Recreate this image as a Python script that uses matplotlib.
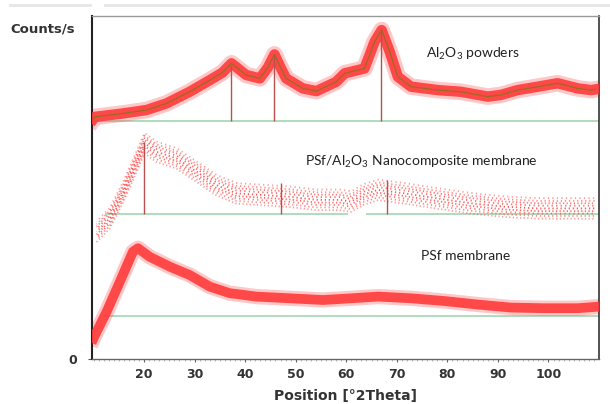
import matplotlib
matplotlib.use("Agg")
import matplotlib.pyplot as plt
from matplotlib.lines import Line2D
import numpy as np

plt.rcParams['mathtext.fontset'] = 'custom'
plt.rcParams['mathtext.rm'] = 'Lato'
plt.rcParams['mathtext.it'] = 'Lato:italic'

# ---------------- data ----------------
# Al2O3 powders (top trace)
al_x = [10.0, 10.3, 15.9, 20.5, 24.4, 29.0, 33.0, 35.5, 37.3, 40.2, 42.9, 44.5, 45.8, 47.0,
        48.1, 51.4, 54.1, 58.0, 59.7, 63.6, 65.6, 67.0, 68.6, 70.2, 72.8, 78.1, 82.7,
        88.0, 90.6, 93.9, 97.9, 101.8, 105.8, 108.4, 109.3]
al_y = [70.0, 70.6, 71.6, 72.6, 74.5, 77.9, 81.3, 83.5, 86.2, 82.8, 81.8, 85.0, 88.8, 85.0,
        81.8, 78.9, 78.1, 80.8, 83.3, 84.7, 92.5, 95.9, 89.6, 82.3, 79.4, 78.4, 77.9,
        76.5, 77.0, 78.4, 79.4, 80.4, 78.9, 78.4, 78.6]
al_base = 69.4
al_peaks = [37.1, 45.7, 66.8]
al_peak_tops = [85.7, 88.6, 96.5]

# PSf/Al2O3 nanocomposite membrane (middle trace)
nc_x = [10.6, 13.2, 15.9, 18.5, 20.1, 22.5, 26.4, 30.4, 34.3, 38.3, 43.5, 48.8, 54.1,
        58.7, 61.0, 63.5, 66.3, 71.5, 78.1, 84.7, 91.3, 97.9, 104.5, 109.3]
nc_y = [37.1, 41.0, 48.8, 57.5, 62.9, 60.4, 58.5, 54.6, 50.7, 48.3, 47.8, 47.3, 46.4,
        46.4, 45.9, 48.0, 49.3, 48.3, 46.8, 45.4, 44.4, 43.9, 43.9, 43.9]
nc_base = 42.2
nc_base_segments = [(12.2, 60.3), (63.9, 110.0)]
nc_peaks = [20.0, 47.0, 68.0]
nc_peak_tops = [63.4, 51.2, 52.2]

# PSf membrane (bottom trace)
ps_x = [10.0, 10.3, 12.6, 15.2, 17.8, 18.8, 21.1, 25.1, 29.0, 33.0, 36.9, 42.2, 48.8,
        55.4, 61.0, 66.3, 72.8, 79.4, 85.9, 92.5, 99.2, 105.8, 109.3]
ps_y = [6.0, 7.0, 13.8, 22.5, 31.3, 32.3, 29.8, 26.9, 24.5, 21.1, 19.2, 18.2, 17.7,
        17.2, 17.7, 18.2, 17.7, 16.9, 15.9, 15.0, 14.8, 14.8, 15.2]
ps_base = 12.5
ps_base_range = (12.0, 110.0)

x_ticks = [20, 30, 40, 50, 60, 70, 80, 90, 100]
labels = [r'Al$_2$O$_3$ powders', r'PSf/Al$_2$O$_3$ Nanocomposite membrane', 'PSf membrane']
label_pos = [(75.8, 88.8), (51.8, 57.5), (74.8, 30.1)]

# ---------------- figure ----------------
fig = plt.figure(figsize=(6.10, 4.04), dpi=100)
ax = fig.add_axes([92/610, 1-359/404, (599-92)/610, (359-16)/404])
ax.set_xlim(9.7, 110.0)
ax.set_ylim(0, 100)

red = '#ff3a3a'
green = '#a9d9b6'
stick = '#b85050'

# baselines
ax.hlines(al_base, 9.7, 110.0, color=green, lw=1.3, zorder=1)
for a, b in nc_base_segments:
    ax.hlines(nc_base, a, b, color=green, lw=1.3, zorder=1)
ax.hlines(ps_base, *ps_base_range, color=green, lw=1.3, zorder=1)

# top trace: noisy band
ax.plot(al_x, al_y, color=red, lw=12, alpha=0.28, solid_joinstyle='round', zorder=2)
ax.plot(al_x, al_y, color=red, lw=7.5, alpha=0.9, solid_joinstyle='round', zorder=3)
ax.plot(al_x, al_y, color='#9a6a22', lw=0.9, zorder=4)

# middle trace: dotted scatter band
offsets = [-3.0, -2.2, -1.5, -0.8, 0.0, 0.8, 1.5, 2.2, 3.0]
for i, off in enumerate(offsets):
    a = 0.85 - 0.12 * abs(off)
    ax.plot(nc_x, np.asarray(nc_y) + off, color=red, lw=1.3, alpha=a,
            linestyle=(i * 0.7, (0.7, 1.3 + 0.25 * (i % 3))), zorder=3)

# bottom trace: noisy band
ax.plot(ps_x, ps_y, color=red, lw=11, alpha=0.28, solid_joinstyle='round', zorder=2)
ax.plot(ps_x, ps_y, color=red, lw=7, alpha=0.9, solid_joinstyle='round', zorder=3)

# reference sticks
ax.vlines(al_peaks, al_base, al_peak_tops, color=stick, lw=1.0, zorder=5)
ax.vlines(nc_peaks, nc_base, nc_peak_tops, color=stick, lw=1.0, zorder=5)

# labels
for t, (lx, ly) in zip(labels, label_pos):
    ax.text(lx, ly, t, fontsize=10, family='Lato', color='#222222', va='center', ha='left')

# axes styling
ax.spines['top'].set_color('#9a9a9a')
ax.spines['top'].set_linewidth(1.0)
ax.spines['right'].set_color('#333333')
ax.spines['right'].set_linewidth(1.2)
ax.spines['left'].set_color('#222222')
ax.spines['left'].set_linewidth(1.5)
ax.spines['bottom'].set_color('#666666')
ax.spines['bottom'].set_linewidth(1.0)

ax.set_xticks(x_ticks)
ax.set_xticklabels([str(v) for v in x_ticks], fontsize=9, fontweight='bold', color='#333333')
ax.set_xticks(np.arange(10, 110, 1), minor=True)
ax.tick_params(axis='x', which='major', length=2.5, width=0.8, color='#666666', pad=4)
ax.tick_params(axis='x', which='minor', length=1.2, width=0.5, color='#999999')
ax.set_yticks([0])
ax.set_yticklabels(['0'], fontsize=9, fontweight='bold', color='#333333')
ax.tick_params(axis='y', length=3, width=0.8, color='#555555', pad=8)

ax.set_xlabel('Position [°2Theta]', fontsize=10, fontweight='bold', color='#333333', labelpad=6)
fig.text(10/610, 1-29/404, 'Counts/s', fontsize=9.5, fontweight='bold', color='#333333',
         ha='left', va='center')

# light header rule
fig.add_artist(Line2D([10/610, 90/610], [1-5/404, 1-5/404], color='#e6e6e6', lw=2))
fig.add_artist(Line2D([105/610, 1.0], [1-5/404, 1-5/404], color='#e6e6e6', lw=2))

fig.savefig('out.png', dpi=100)
